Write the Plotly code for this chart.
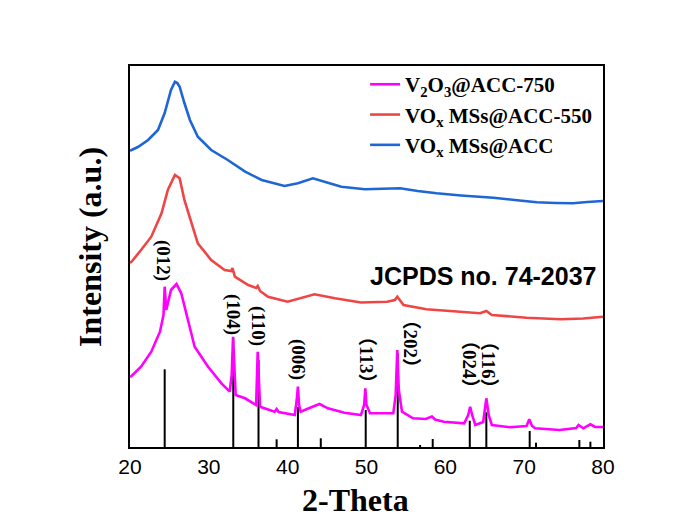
import plotly.graph_objects as go

# ---- data (2-theta in degrees, intensity in a.u.) ----
blue_x = [20.0, 20.2, 21.0, 22.3, 23.55, 24.4, 25.2, 25.7, 26.0, 26.3, 26.9, 27.6, 28.6, 30.3, 32.4,
          34.6, 36.7, 38.5, 39.6, 41.3, 43.2, 45.1, 46.8, 49.8, 52.0, 54.25, 56.5, 58.9, 62.0, 66.1,
          68.8, 71.6, 74.0, 76.2, 78.0, 80.0]
blue_y = [296, 297, 300, 307, 317, 334, 357, 365.3, 364, 360.3, 344, 327, 310.3, 297, 287,
          275.3, 267, 263, 261, 263.7, 268.7, 264.3, 260.3, 257.7, 258, 258.7, 256, 253.7, 251.5, 249.3,
          247, 244.7, 244, 243.7, 245, 246]

red_x = [20.0, 20.2, 21.4, 22.7, 24.0, 24.8, 25.7, 26.3, 26.9, 27.8, 28.6, 30.3, 32.0, 32.85, 33.0,
         33.3, 35.0, 36.0, 36.2, 36.5, 37.5, 40.0, 41.7, 43.4, 46.0, 49.3, 52.6, 53.6, 53.9, 54.7,
         57.6, 61.9, 64.4, 65.2, 65.9, 70.3, 74.6, 77.5, 80.0]
red_y = [184, 185.3, 197, 210.3, 233.7, 257, 272, 268.7, 247, 224, 203.7, 187, 177, 176, 179,
         170.3, 162, 159, 161, 156, 150.3, 145.3, 148.7, 152.7, 148.7, 144.5, 145.3, 147, 150.3, 142,
         137.7, 135.3, 133.7, 136, 132, 129.3, 127.7, 128.5, 130.3]

mag_x = [20.0, 20.2, 21.4, 22.7, 23.8, 24.25, 24.4, 24.6, 25.2, 25.9, 26.5, 27.4, 28.2, 29.9, 31.6,
         32.65, 32.9, 33.07, 33.25, 33.4, 34.6, 36.0, 36.2, 36.4, 36.5, 38.35, 38.6, 38.85, 40.9, 41.15,
         41.3, 41.45, 41.65, 43.0, 44.05, 45.1, 47.2, 49.3, 49.7, 49.85, 50.0, 50.45, 53.4, 53.7, 53.9,
         54.1, 54.5, 55.9, 57.5, 58.3, 58.7, 59.8, 62.4, 62.9, 63.15, 63.4, 63.8, 64.8, 65.2, 65.5,
         65.9, 68.2, 70.3, 70.65, 71.0, 71.4, 74.5, 76.6, 76.9, 77.5, 78.4, 79.0, 79.8, 80.0]
mag_y = [70, 71, 80.3, 95.3, 115.3, 132, 160.3, 137, 157, 163, 153.7, 123.7, 100.3, 80.3, 63.7,
         55.3, 72, 110.3, 67, 52, 48.7, 42, 95.3, 47, 40.3, 35.3, 38, 35, 32, 47,
         60.3, 42, 35.3, 39.7, 43, 38.7, 34.3, 32, 42, 58.7, 42, 33.7, 33.7, 52, 97,
         57, 35.3, 28.7, 28, 30.5, 27.5, 25.3, 23.7, 32, 40.3, 32, 22, 25, 48.7, 32,
         22, 19.7, 21, 27.7, 21, 18.7, 17, 19, 22, 18.7, 22.7, 20, 19.7, 20]

# JCPDS 74-2037 reference pattern
ref_pos = [24.4, 33.1, 36.3, 38.6, 41.3, 44.2, 49.9, 53.96, 56.8, 58.4, 63.1, 65.2, 70.7, 71.5, 77.0, 78.4]
ref_int = [77.7, 108.7, 87, 7.7, 40, 8.7, 37, 93.7, 2, 8, 26.3, 34.7, 16, 4.3, 7, 5.3]

hkl_text = ["(012)", "(104)", "(110)", "(006)", "（113）", "（202）", "（024）", "（116）"]
hkl_x = [24.19, 33.07, 36.24, 41.31, 50.06, 55.7, 63.13, 65.54]
hkl_y = [187, 133, 121, 87, 87, 103, 83, 83]

x_ticks = [20, 30, 40, 50, 60, 70, 80]

names = ["V<sub>2</sub>O<sub>3</sub>@ACC-750", "VO<sub>x</sub> MSs@ACC-550", "VO<sub>x</sub> MSs@ACC"]
colors = ["#FF00FF", "#F04545", "#1E66D6"]

SERIF = "Liberation Serif, Times New Roman, serif"
SANS = "Liberation Sans, Arial, sans-serif"

fig = go.Figure()

# sticks
sx, sy = [], []
for p, h in zip(ref_pos, ref_int):
    sx += [p, p, None]
    sy += [0, h, None]
fig.add_trace(go.Scatter(x=sx, y=sy, mode="lines", line=dict(color="black", width=2),
                         showlegend=False, hoverinfo="skip"))

for i, (xs, ys, nm, c) in enumerate(zip([mag_x, red_x, blue_x], [mag_y, red_y, blue_y], names, colors)):
    fig.add_trace(go.Scatter(x=xs, y=ys, mode="lines", name="<b>%s</b>" % nm, legendgroup="g%d" % i,
                             line=dict(color=c, width=2.6)))

for t, x, y in zip(hkl_text, hkl_x, hkl_y):
    fig.add_annotation(x=x, y=y, text="<b>%s</b>" % t, showarrow=False,
                       textangle=90, font=dict(family=SERIF + ", Noto Sans CJK SC",
                                               size=19, color="black"))

fig.add_annotation(x=0.748, y=0.448, xref="paper", yref="paper", xanchor="center", yanchor="middle",
                   text="<b>JCPDS no. 74-2037</b>",
                   showarrow=False, font=dict(family=SANS, size=25, color="black"))

# axis titles
fig.add_annotation(x=-0.0846, y=0.525, xref="paper", yref="paper", xanchor="center", yanchor="middle",
                   text="<b>Intensity (a.u.)</b>", textangle=-90, showarrow=False,
                   font=dict(family=SERIF, size=32, color="black"))
fig.add_annotation(x=0.477, y=-0.139, xref="paper", yref="paper", xanchor="center", yanchor="middle",
                   text="<b>2-Theta</b>", showarrow=False,
                   font=dict(family=SERIF, size=32, color="black"))

fig.update_layout(
    width=685, height=530,
    margin=dict(l=122, r=90, t=58, b=91),
    paper_bgcolor="white", plot_bgcolor="white",
    legend=dict(x=0.497, y=1.005, xanchor="left", yanchor="top", bgcolor="rgba(0,0,0,0)",
                font=dict(family=SERIF, size=21, color="black"), itemwidth=30,
                tracegroupgap=0),
    showlegend=True,
)
fig.update_xaxes(range=[20, 80], tickvals=x_ticks, ticktext=[str(v) for v in x_ticks],
                 showgrid=False, zeroline=False, showline=True, mirror=True, linecolor="black",
                 linewidth=2, ticks="", tickfont=dict(family=SANS, size=21, color="black"))
fig.update_yaxes(range=[0, 381], showticklabels=False, showgrid=False, zeroline=False,
                 showline=True, mirror=True, linecolor="black", linewidth=2, ticks="")

fig.write_html("out.html")
